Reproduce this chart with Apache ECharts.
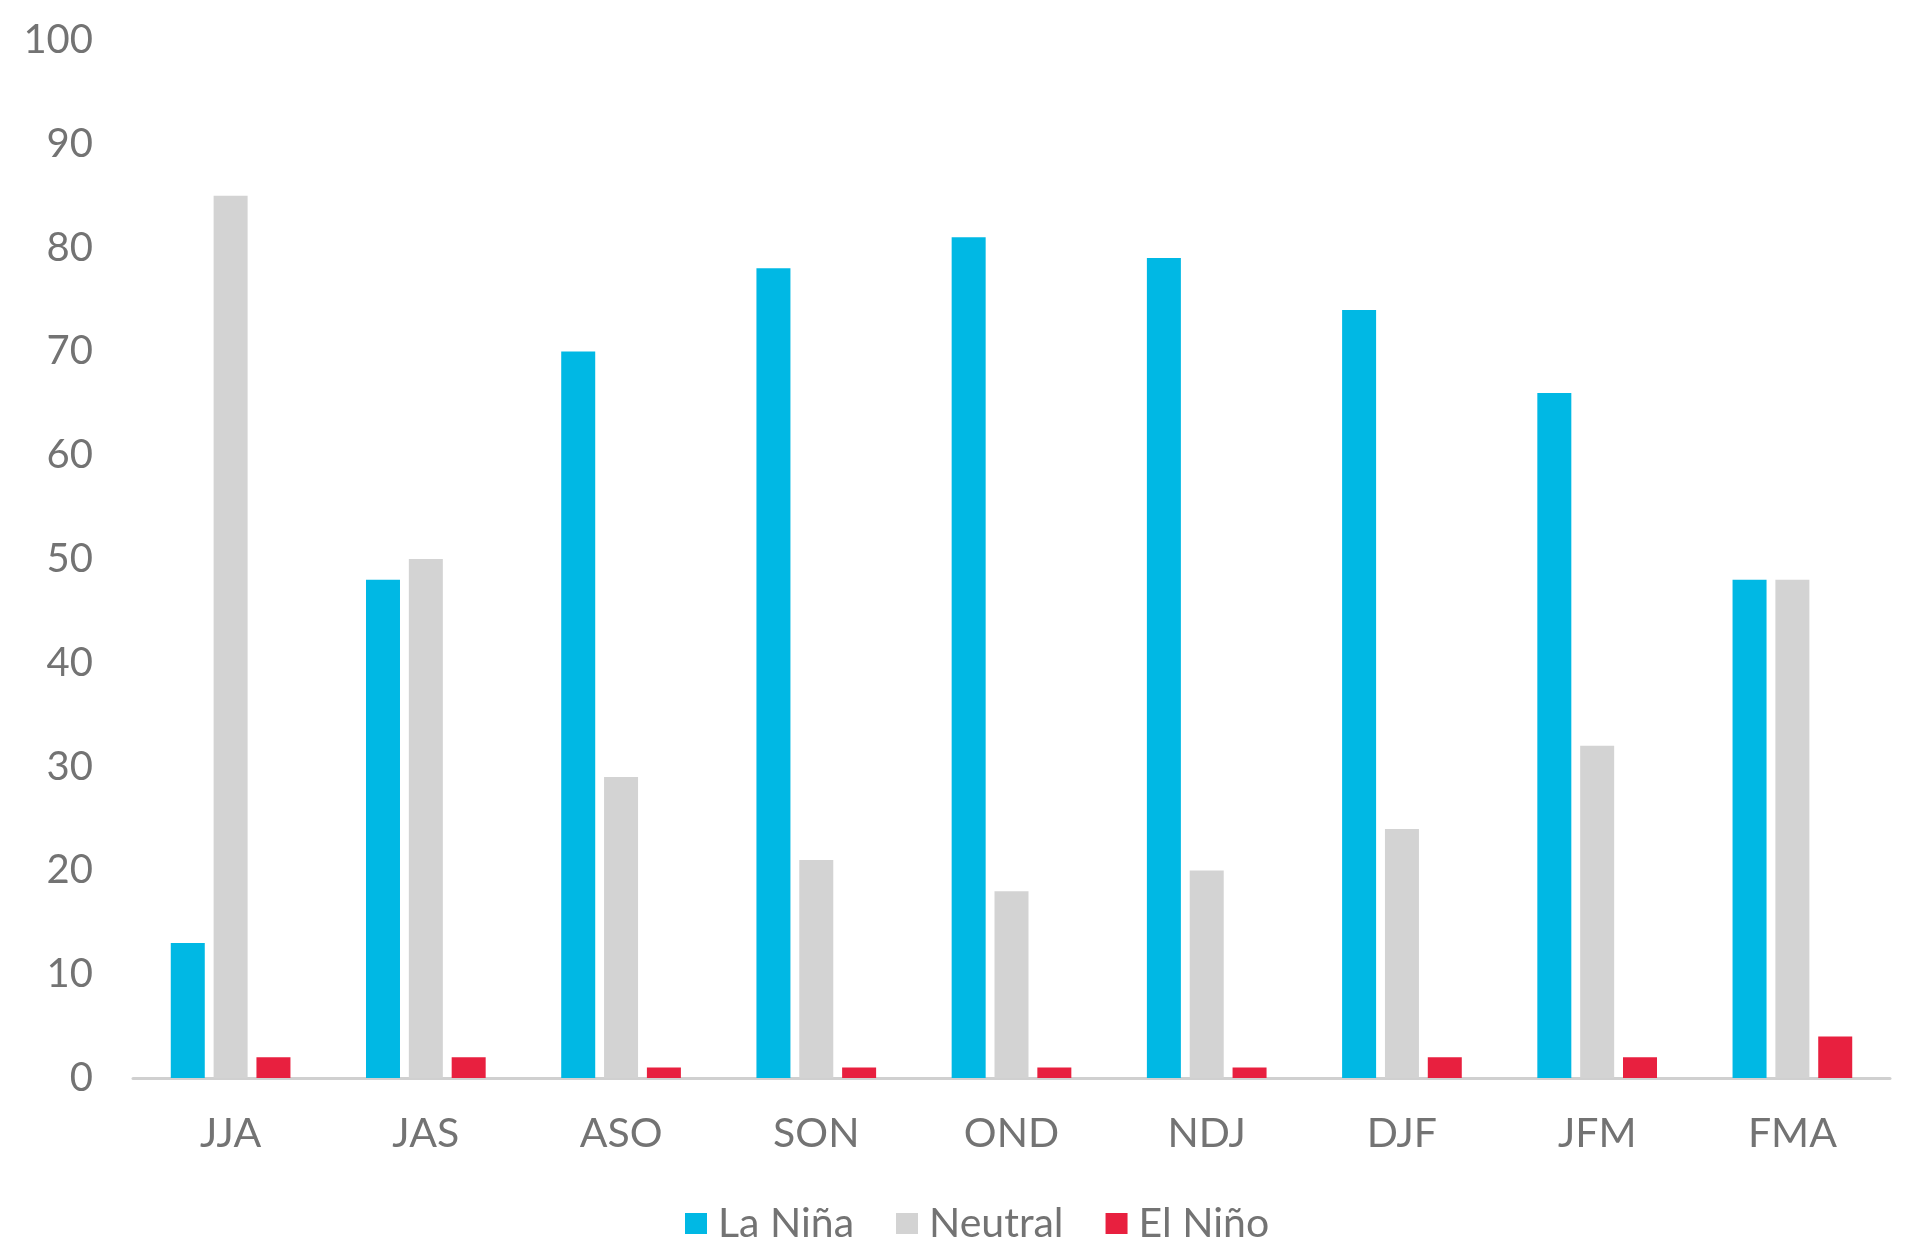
<!DOCTYPE html>
<html><head><meta charset="utf-8">
<script src="https://cdn.jsdelivr.net/npm/echarts@6/dist/echarts.min.js"></script>
<style>html,body{margin:0;padding:0;background:#fff}#c{width:1918px;height:1257px}</style>
</head><body><div id="c"></div>
<script>
const categories = ['JJA','JAS','ASO','SON','OND','NDJ','DJF','JFM','FMA'];
const laNina = [13,48,70,78,81,79,74,66,48];
const neutral = [85,50,29,21,18,20,24,32,48];
const elNino = [2,2,1,1,1,1,2,2,4];
const seriesNames = ['La Niña','Neutral','El Niño'];
const colors = ['#00B8E4','#D3D3D3','#E8203F'];

const chart = echarts.init(document.getElementById('c'));
const txt = '#737373';
chart.setOption({
  animation:false,
  color: colors,
  textStyle:{fontFamily:'Lato'},
  grid:{left:133,right:28,top:40,bottom:179},
  legend:{
    data:seriesNames, top:1198, left:680, icon:'rect',
    itemWidth:22, itemHeight:21, itemGap:42,
    textStyle:{color:txt,fontSize:41,fontFamily:'Lato',padding:[0,0,0,6]}
  },
  xAxis:{
    type:'category', data:categories,
    axisLine:{lineStyle:{color:'#D0D0D0',width:3}},
    axisTick:{show:false},
    axisLabel:{color:txt,fontSize:41,fontFamily:'Lato',margin:35}
  },
  yAxis:{
    type:'value', min:0, max:100, interval:10,
    axisLine:{show:false}, axisTick:{show:false}, splitLine:{show:false},
    axisLabel:{color:txt,fontSize:40,fontFamily:'Lato',margin:40}
  },
  series:[
    {name:seriesNames[0],type:'bar',data:laNina,barWidth:34,barGap:'26%'},
    {name:seriesNames[1],type:'bar',data:neutral,barWidth:34,barGap:'26%'},
    {name:seriesNames[2],type:'bar',data:elNino,barWidth:34,barGap:'26%'}
  ]
});
</script></body></html>
